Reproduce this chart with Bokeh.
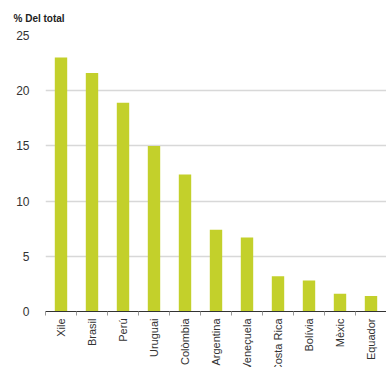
import numpy as np
from bokeh.plotting import figure
from bokeh.layouts import column
from bokeh.models import Range1d, FixedTicker, ColumnDataSource, Title
from bokeh.core.properties import value
from bokeh.embed import file_html
from bokeh.resources import INLINE

countries = ["Xile", "Brasil", "Perú", "Uruguai", "Colòmbia", "Argentina",
             "Veneçuela", "Costa Rica", "Bolívia", "Mèxic", "Equador"]
values = [23.0, 21.6, 18.9, 15.0, 12.4, 7.4, 6.7, 3.2, 2.8, 1.6, 1.4]
y_ticks = [0, 5, 10, 15, 20, 25]
title_text = "% Del total"

n = len(countries)
xs = list(range(n))
source = ColumnDataSource(dict(x=xs, top=values, base=[0] * n, name=countries))
x_range = Range1d(-0.5, n - 0.5)

# ---- main plot (bars, axes, grid) ----
p = figure(width=386, height=318, output_backend="svg", toolbar_location=None,
           x_range=x_range, y_range=Range1d(0, 25),
           min_border_left=45, min_border_right=0, min_border_top=35,
           min_border_bottom=7)

p.add_layout(Title(text=title_text, text_font="Liberation Sans",
                   text_font_size="10px", text_font_style="bold",
                   text_color="#222222", align="left", offset=-32,
                   vertical_align="top", standoff=20), "above")

p.vbar(x="x", top="top", width=0.4, source=source, color="#c3d02b", line_color=None)

p.outline_line_color = None
p.background_fill_color = None
p.border_fill_color = None

p.yaxis.ticker = FixedTicker(ticks=y_ticks)
p.yaxis.axis_line_color = None
p.yaxis.major_tick_line_color = None
p.yaxis.minor_tick_line_color = None
p.yaxis.major_label_text_font = "Liberation Sans"
p.yaxis.major_label_text_font_size = "12px"
p.yaxis.major_label_text_color = "#333333"
p.yaxis.major_label_standoff = 10

p.ygrid.grid_line_color = "#d8d8d8"
p.ygrid.grid_line_width = 1.5
p.xgrid.grid_line_color = None

bounds = [i - 0.5 for i in xs] + [n - 0.5]
p.xaxis.ticker = FixedTicker(ticks=xs, minor_ticks=bounds)
p.xaxis.major_label_overrides = {i: "" for i in xs}
p.xaxis.major_label_text_font_size = "0px"
p.xaxis.major_label_standoff = 0
p.xaxis.major_tick_line_color = None
p.xaxis.major_tick_out = 0
p.xaxis.major_tick_in = 0
p.xaxis.minor_tick_line_color = "#999999"
p.xaxis.minor_tick_out = 4
p.xaxis.minor_tick_in = 0
p.xaxis.axis_line_color = "#333333"
p.xaxis.axis_line_width = 1

# ---- category label strip (rotated labels) ----
p2 = figure(width=386, height=49, output_backend="svg", toolbar_location=None,
            x_range=x_range, y_range=Range1d(-1, 0), x_axis_location=None,
            y_axis_location=None, min_border_left=45, min_border_right=0,
            min_border_top=0, min_border_bottom=0)
p2.outline_line_color = None
p2.background_fill_color = None
p2.border_fill_color = None
p2.xgrid.grid_line_color = None
p2.ygrid.grid_line_color = None

p2.text(x="x", y="base", text="name", source=source, angle=np.pi / 2,
        text_align="right", text_baseline="middle",
        text_font=value("Liberation Sans"), text_font_size="11px",
        text_color="#333333")

layout = column(p, p2, spacing=0)
open("out.html", "w").write(file_html(layout, INLINE))
